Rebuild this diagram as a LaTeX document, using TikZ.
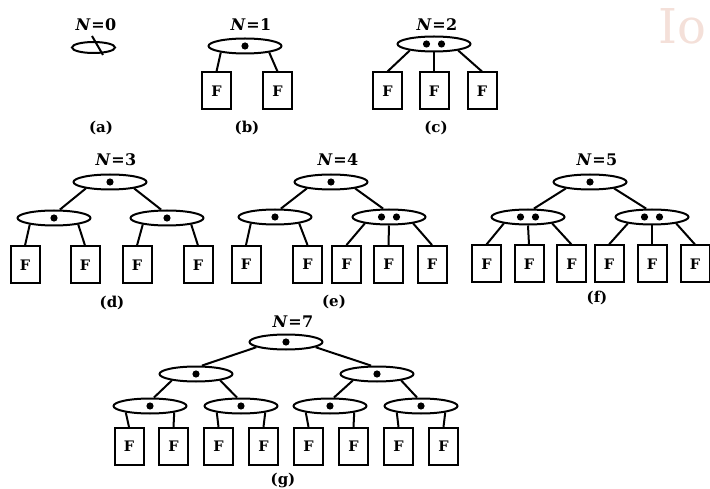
\documentclass[tikz,border=0pt]{standalone}
\usepackage{fontspec}
\setmainfont{DejaVu Serif}
\usepackage{xcolor}
\definecolor{wmPink}{HTML}{F4E0D9}
\usepackage{tikz}
\usetikzlibrary{calc,shapes.geometric}
\newcommand{\figfont}{\fontsize{15}{18}\selectfont}
\newcommand{\nlab}[1]{\textbf{\textit{N}\kern0.5pt=\kern0.5pt#1}}

\begin{document}
\begin{tikzpicture}[
    x=1pt, y=-1pt,
    cell/.style={ellipse, draw, line width=2pt, minimum width=73pt, minimum height=15pt, inner sep=0pt},
    onedot/.style={cell, path picture={\fill (path picture bounding box.center) circle (3.6pt);}},
    twodot/.style={cell, path picture={\fill ([xshift=-7.5pt]path picture bounding box.center) circle (3.6pt);
                                       \fill ([xshift=7.5pt]path picture bounding box.center) circle (3.6pt);}},
    leaf/.style={draw, line width=2pt, minimum width=29pt, minimum height=37pt, inner sep=0pt, font=\fontsize{14.5}{17}\selectfont\bfseries},
    figlab/.style={font=\figfont\bfseries, inner sep=1pt},
    toplab/.style={font=\fontsize{16}{19}\selectfont, inner sep=1pt},
    edge/.style={line width=2pt}
  ]
    \useasboundingbox (0,0) rectangle (710,489);
    \node[text=wmPink, font=\fontsize{48}{48}\selectfont, anchor=south east, inner sep=0pt] (mark) at (707,44) {Io};
    % (a)
    \node[toplab] (na) at (96,25) {\nlab{0}};
    \node[cell, minimum width=43pt, minimum height=11pt] (a0) at (93.5,47.5) {};
    \node[figlab] (la) at (101,128) {(a)};
    \draw[edge] ($(a0.center)+(-1.5,-11.5)$) -- ($(a0.center)+(9.5,7.5)$);
    % (b)
    \node[toplab] (nb) at (251,25) {\nlab{1}};
    \node[onedot] (b0) at (245,46) {};
    \node[leaf] (b1) at (216.5,91) {F};
    \node[leaf] (b2) at (277.5,91) {F};
    \node[figlab] (lb) at (247,128) {(b)};
    \draw[edge] (b0.195) -- (b1.north);
    \draw[edge] (b0.345) -- (b2.north);
    % (c)
    \node[toplab] (nc) at (437,25) {\nlab{2}};
    \node[twodot] (c0) at (434,44) {};
    \node[leaf] (c1) at (387.5,91) {F};
    \node[leaf] (c2) at (434,91) {F};
    \node[leaf] (c3) at (482,91) {F};
    \node[figlab] (lc) at (436,128) {(c)};
    \draw[edge] (c0.195) -- (c1.north);
    \draw[edge] (c0.south) -- (c2.north);
    \draw[edge] (c0.345) -- (c3.north);
    % (d)
    \node[toplab] (nd) at (116,160) {\nlab{3}};
    \node[onedot] (d0) at (110,182) {};
    \node[onedot] (d1) at (54,218) {};
    \node[onedot] (d2) at (167,218) {};
    \node[leaf] (d11) at (25,265) {F};
    \node[leaf] (d12) at (85,265) {F};
    \node[leaf] (d21) at (137,265) {F};
    \node[leaf] (d22) at (198,265) {F};
    \node[figlab] (ld) at (112,303) {(d)};
    \draw[edge] (d0.195) -- (d1.55);
    \draw[edge] (d0.345) -- (d2.125);
    \draw[edge] (d1.195) -- (d11.north);
    \draw[edge] (d1.345) -- (d12.north);
    \draw[edge] (d2.195) -- (d21.north);
    \draw[edge] (d2.345) -- (d22.north);
    % (e)
    \node[toplab] (ne) at (338,160) {\nlab{4}};
    \node[onedot] (e0) at (331,182) {};
    \node[onedot] (e1) at (275,217) {};
    \node[twodot] (e2) at (389,217) {};
    \node[leaf] (e11) at (246,264.5) {F};
    \node[leaf] (e12) at (307.5,264.5) {F};
    \node[leaf] (e21) at (346.5,264.5) {F};
    \node[leaf] (e22) at (388.5,264.5) {F};
    \node[leaf] (e23) at (432,264.5) {F};
    \node[figlab] (le) at (334,302) {(e)};
    \draw[edge] (e0.195) -- (e1.55);
    \draw[edge] (e0.345) -- (e2.125);
    \draw[edge] (e1.195) -- (e11.north);
    \draw[edge] (e1.345) -- (e12.north);
    \draw[edge] (e2.195) -- (e21.north);
    \draw[edge] (e2.south) -- (e22.north);
    \draw[edge] (e2.345) -- (e23.north);
    % (f)
    \node[toplab] (nf) at (597,160) {\nlab{5}};
    \node[onedot] (f0) at (590,182) {};
    \node[twodot] (f1) at (528,217) {};
    \node[twodot] (f2) at (652,217) {};
    \node[leaf] (f11) at (486.5,264) {F};
    \node[leaf] (f12) at (529,264) {F};
    \node[leaf] (f13) at (571.5,264) {F};
    \node[leaf] (f21) at (609,264) {F};
    \node[leaf] (f22) at (652,264) {F};
    \node[leaf] (f23) at (695,264) {F};
    \node[figlab] (lf) at (597,298) {(f)};
    \draw[edge] (f0.195) -- (f1.55);
    \draw[edge] (f0.345) -- (f2.125);
    \draw[edge] (f1.195) -- (f11.north);
    \draw[edge] (f1.south) -- (f12.north);
    \draw[edge] (f1.345) -- (f13.north);
    \draw[edge] (f2.195) -- (f21.north);
    \draw[edge] (f2.south) -- (f22.north);
    \draw[edge] (f2.345) -- (f23.north);
    % (g)
    \node[toplab] (ng) at (293,322) {\nlab{7}};
    \node[onedot] (g0) at (286,342) {};
    \node[onedot] (g1) at (196,374) {};
    \node[onedot] (g2) at (377,374) {};
    \node[onedot] (g11) at (150,406) {};
    \node[onedot] (g12) at (241,406) {};
    \node[onedot] (g21) at (330,406) {};
    \node[onedot] (g22) at (421,406) {};
    \node[leaf] (g111) at (129,446.5) {F};
    \node[leaf] (g112) at (173.5,446.5) {F};
    \node[leaf] (g121) at (218.5,446.5) {F};
    \node[leaf] (g122) at (263.5,446.5) {F};
    \node[leaf] (g211) at (308.5,446.5) {F};
    \node[leaf] (g212) at (353.5,446.5) {F};
    \node[leaf] (g221) at (398.5,446.5) {F};
    \node[leaf] (g222) at (443.5,446.5) {F};
    \node[figlab] (lg) at (283,480) {(g)};
    \draw[edge] (g0.190) -- (g1.55);
    \draw[edge] (g0.350) -- (g2.125);
    \draw[edge] (g1.195) -- (g11.65);
    \draw[edge] (g1.345) -- (g12.115);
    \draw[edge] (g2.195) -- (g21.65);
    \draw[edge] (g2.345) -- (g22.115);
    \draw[edge] (g11.195) -- (g111.north);
    \draw[edge] (g11.345) -- (g112.north);
    \draw[edge] (g12.195) -- (g121.north);
    \draw[edge] (g12.345) -- (g122.north);
    \draw[edge] (g21.195) -- (g211.north);
    \draw[edge] (g21.345) -- (g212.north);
    \draw[edge] (g22.195) -- (g221.north);
    \draw[edge] (g22.345) -- (g222.north);
  \end{tikzpicture}
\end{document}
